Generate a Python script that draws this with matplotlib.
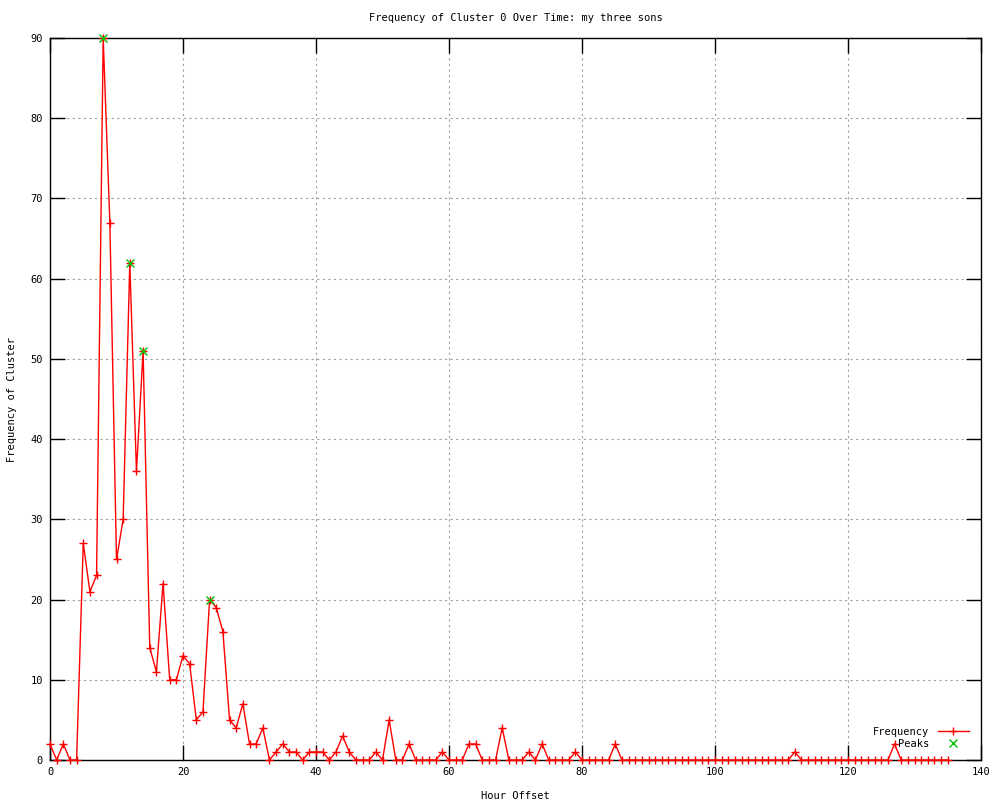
import numpy as np
import matplotlib
matplotlib.use('Agg')
import matplotlib.pyplot as plt

# hour offsets 0..135 and counts
hours = list(range(136))
freq = [2, 0, 2, 0, 0, 27, 21, 23, 90, 67,
        25, 30, 62, 36, 51, 14, 11, 22, 10, 10,
        13, 12, 5, 6, 20, 19, 16, 5, 4, 7,
        2, 2, 4, 0, 1, 2, 1, 1, 0, 1,
        1, 1, 0, 1, 3, 1, 0, 0, 0, 1,
        0, 5, 0, 0, 2, 0, 0, 0, 0, 1,
        0, 0, 0, 2, 2, 0, 0, 0, 4, 0,
        0, 0, 1, 0, 2, 0, 0, 0, 0, 1,
        0, 0, 0, 0, 0, 2] + [0] * 50
freq[112] = 1
freq[127] = 2

peak_hours = [8, 12, 14, 24]
peak_freq = [90, 62, 51, 20]

x_ticks = [0, 20, 40, 60, 80, 100, 120, 140]
y_ticks = [0, 10, 20, 30, 40, 50, 60, 70, 80, 90]

plt.rcParams['font.family'] = ['DejaVu Sans Mono']
plt.rcParams['font.size'] = 7.5

fig = plt.figure(figsize=(10, 8), dpi=100)
ax = fig.add_axes([0.05, 0.05, 0.931, 0.9025])

ax.plot(hours, freq, color='#ff0000', lw=1, marker='+', ms=6, mew=1,
        label='Frequency', clip_on=False, zorder=3)
ax.plot(peak_hours, peak_freq, ls='none', color='#00c000', marker='x', ms=6,
        mew=1, label='Peaks', clip_on=False, zorder=4)

ax.set_xlim(0, 140)
ax.set_ylim(0, 90)
ax.set_xticks(x_ticks)
ax.set_yticks(y_ticks)
ax.tick_params(direction='in', length=11, width=1, top=True, right=True,
               labelsize=7.5, pad=5)
ax.grid(True, color='#a0a0a0', ls=(0, (2, 3)), lw=0.8)
for s in ax.spines.values():
    s.set_linewidth(1)

ax.set_title('Frequency of Cluster 0 Over Time: my three sons', fontsize=7.5, pad=12)
ax.set_xlabel('Hour Offset', fontsize=7.5, labelpad=10)
ax.set_ylabel('Frequency of Cluster', fontsize=7.5, labelpad=10)

ax.legend(loc='lower right', frameon=False, markerfirst=False, fontsize=7.5,
          handlelength=3, borderaxespad=0.3, labelspacing=0.2,
          bbox_to_anchor=(0.995, 0.005))

fig.savefig('out.png', dpi=100)
